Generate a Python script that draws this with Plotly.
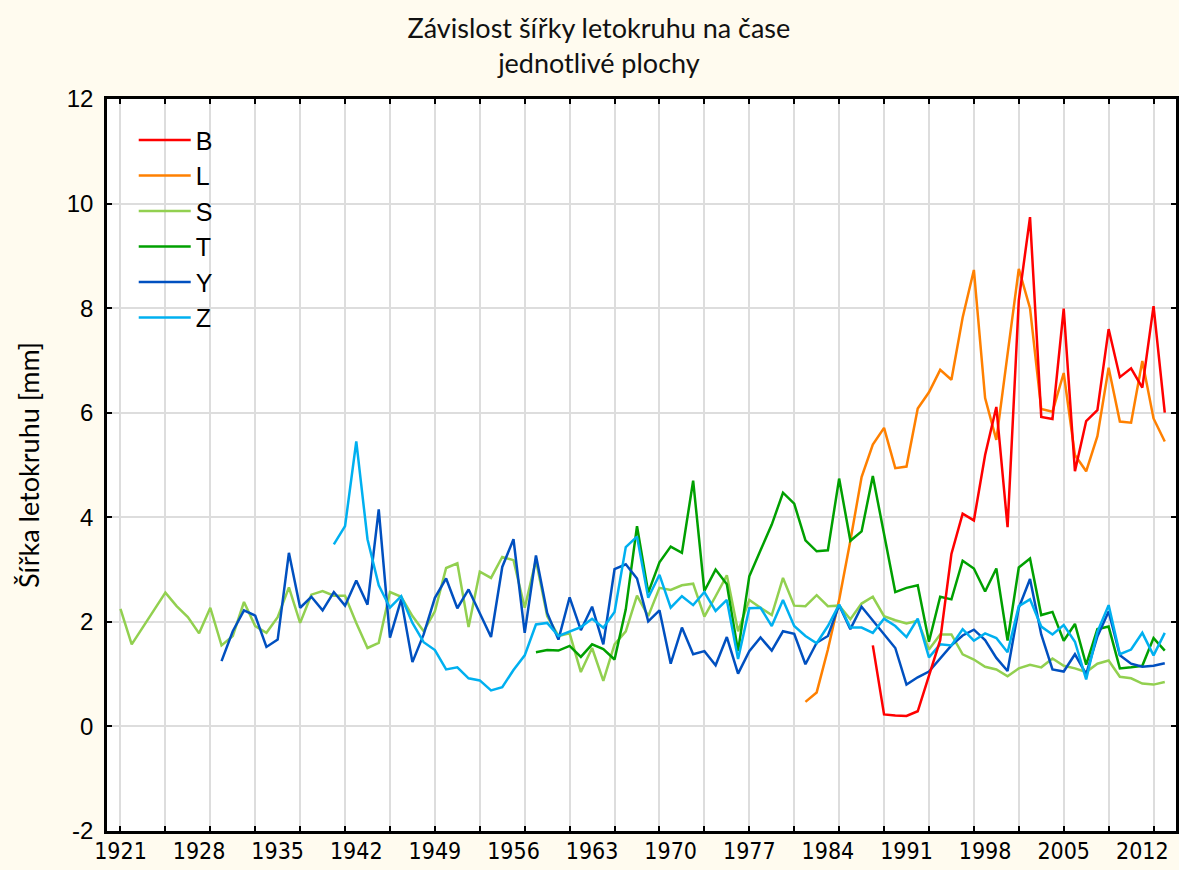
import plotly.graph_objects as go

label_years = [1921, 1928, 1935, 1942, 1949, 1956, 1963, 1970, 1977, 1984, 1991, 1998, 2005, 2012]
y_ticks = [-2, 0, 2, 4, 6, 8, 10, 12]

b_start = 1988
b_vals = [1.55, 0.23, 0.21, 0.20, 0.29, 0.95, 1.65, 3.30, 4.07, 3.94, 5.19, 6.11, 3.81, 8.15,
          9.74, 5.92, 5.88, 7.99, 4.88, 5.84, 6.05, 7.60, 6.68, 6.85, 6.48, 8.04, 6.00]

l_start = 1982
l_vals = [0.47, 0.65, 1.47, 2.42, 3.55, 4.77, 5.39, 5.71, 4.94, 4.97, 6.08, 6.39, 6.82, 6.63,
          7.82, 8.73, 6.28, 5.48, 7.12, 8.75, 8.00, 6.07, 6.02, 6.76, 5.19, 4.88, 5.55, 6.86,
          5.83, 5.81, 6.99, 5.89, 5.45]

s_start = 1921
s_vals = [2.25, 1.57, 1.90, 2.23, 2.56, 2.30, 2.09, 1.78, 2.27, 1.55, 1.73, 2.38, 1.92, 1.79,
          2.09, 2.66, 1.98, 2.52, 2.59, 2.50, 2.50, 1.98, 1.50, 1.60, 2.57, 2.48, 2.11, 1.82,
          2.20, 3.03, 3.12, 1.90, 2.96, 2.84, 3.24, 3.18, 2.27, 3.18, 2.11, 1.73, 1.78, 1.04,
          1.50, 0.87, 1.57, 1.82, 2.50, 2.11, 2.65, 2.61, 2.70, 2.73, 2.10, 2.49, 2.89, 1.82,
          2.42, 2.27, 2.13, 2.84, 2.31, 2.30, 2.51, 2.30, 2.31, 2.05, 2.35, 2.48, 2.11, 2.03,
          1.97, 2.02, 1.47, 1.76, 1.76, 1.38, 1.28, 1.14, 1.09, 0.96, 1.11, 1.18, 1.13, 1.30,
          1.16, 1.11, 1.04, 1.20, 1.26, 0.95, 0.92, 0.82, 0.80, 0.85]

t_start = 1958
t_vals = [1.42, 1.46, 1.45, 1.54, 1.33, 1.57, 1.48, 1.28, 2.24, 3.83, 2.56, 3.14, 3.44, 3.32,
          4.70, 2.59, 3.00, 2.72, 1.44, 2.87, 3.37, 3.86, 4.47, 4.26, 3.56, 3.35, 3.37, 4.74,
          3.55, 3.73, 4.79, 3.68, 2.57, 2.65, 2.70, 1.62, 2.48, 2.43, 3.17, 3.02, 2.58, 3.02,
          1.64, 3.04, 3.21, 2.13, 2.19, 1.64, 1.96, 1.18, 1.86, 1.91, 1.11, 1.13, 1.16, 1.69,
          1.45]

y_start = 1930
y_vals = [1.25, 1.82, 2.22, 2.12, 1.52, 1.66, 3.32, 2.27, 2.48, 2.22, 2.57, 2.31, 2.79, 2.33,
          4.15, 1.70, 2.43, 1.23, 1.76, 2.46, 2.83, 2.26, 2.62, 2.17, 1.71, 3.05, 3.58, 1.79,
          3.27, 2.17, 1.66, 2.47, 1.84, 2.29, 1.57, 3.01, 3.10, 2.83, 2.01, 2.22, 1.20, 1.89,
          1.38, 1.44, 1.17, 1.71, 1.01, 1.44, 1.70, 1.45, 1.82, 1.77, 1.19, 1.60, 1.73, 2.32,
          1.86, 2.29, 2.03, 1.76, 1.50, 0.80, 0.94, 1.05, 1.31, 1.55, 1.74, 1.85, 1.65, 1.31,
          1.06, 2.27, 2.82, 1.76, 1.09, 1.05, 1.38, 1.00, 1.72, 2.20, 1.36, 1.20, 1.14, 1.16,
          1.21]

z_start = 1940
z_vals = [3.48, 3.83, 5.45, 3.58, 2.70, 2.27, 2.49, 1.98, 1.61, 1.46, 1.09, 1.13, 0.92, 0.88,
          0.69, 0.75, 1.08, 1.36, 1.95, 1.98, 1.73, 1.82, 1.90, 2.06, 1.89, 2.19, 3.43, 3.63,
          2.46, 2.90, 2.27, 2.49, 2.32, 2.57, 2.21, 2.42, 1.29, 2.26, 2.27, 1.92, 2.42, 1.92,
          1.73, 1.59, 1.92, 2.33, 1.89, 1.89, 1.79, 2.06, 1.92, 1.71, 2.06, 1.32, 1.57, 1.55,
          1.86, 1.64, 1.78, 1.69, 1.42, 2.30, 2.43, 1.91, 1.76, 1.94, 1.62, 0.90, 1.81, 2.32,
          1.38, 1.47, 1.79, 1.36, 1.79]

series = [
    ("B", b_start, b_vals, "#FF0000"),
    ("L", l_start, l_vals, "#FF8000"),
    ("S", s_start, s_vals, "#92D050"),
    ("T", t_start, t_vals, "#00A000"),
    ("Y", y_start, y_vals, "#0050C0"),
    ("Z", z_start, z_vals, "#00B0F0"),
]

x_range = [1919.8, 2015.0]
bg = "#FFFBEF"
tick_font = "DejaVu Sans Condensed, Liberation Sans, sans-serif"

fig = go.Figure()
for i, (name, start, vals, color) in enumerate(series):
    years = list(range(start, start + len(vals)))
    fig.add_trace(go.Scatter(
        x=years, y=vals, name=name, mode="lines",
        line=dict(color=color, width=2.5),
        xaxis="x2" if i == 0 else "x",
    ))

fig.update_layout(
    width=1179, height=870,
    paper_bgcolor=bg,
    plot_bgcolor="white",
    margin=dict(l=107, r=3, t=99, b=39),
    title=dict(
        text="Závislost šířky letokruhu na čase<br>jednotlivé plochy",
        x=0.508, xanchor="center", yref="container", y=0.956, yanchor="middle",
        font=dict(family="Lato", size=27, color="#111111"),
    ),
    xaxis=dict(
        range=x_range, tick0=1921, dtick=4, showticklabels=False,
        showgrid=True, gridcolor="#DDDDDD", gridwidth=1.5,
        ticks="inside", ticklen=5, tickwidth=1.5, tickcolor="black",
        showline=True, linecolor="black", linewidth=2.5, mirror="ticks",
        zeroline=False, automargin=False,
    ),
    xaxis2=dict(
        range=x_range, overlaying="x", anchor="y", side="bottom",
        tickmode="array", tickvals=label_years,
        ticktext=[str(v) for v in label_years],
        showgrid=False, ticks="", showline=False, zeroline=False,
        ticklabelstandoff=4, automargin=False,
        tickfont=dict(family=tick_font, size=23, color="black"),
    ),
    yaxis=dict(
        range=[-2, 12], tickmode="array", tickvals=y_ticks,
        ticktext=[str(v) for v in y_ticks],
        showgrid=True, gridcolor="#DDDDDD", gridwidth=1.5,
        ticks="inside", ticklen=5, tickwidth=1.5, tickcolor="black",
        showline=True, linecolor="black", linewidth=2.5, mirror="ticks",
        zeroline=False, ticklabelstandoff=6, automargin=False,
        tickfont=dict(family="Liberation Sans", size=24, color="black"),
        title=dict(text="Šířka letokruhu [mm]", standoff=20,
                   font=dict(family="Lato", size=27, color="black")),
    ),
    legend=dict(
        x=0.025, y=0.975, xanchor="left", yanchor="top",
        bgcolor="rgba(0,0,0,0)", borderwidth=0,
        font=dict(family="Liberation Sans", size=25, color="black"),
        itemwidth=52, tracegroupgap=0,
    ),
)

fig.write_html(
    "out.html",
    config={"displayModeBar": False},
    post_script=f"document.body.style.margin='0';document.body.style.background='{bg}';",
)
